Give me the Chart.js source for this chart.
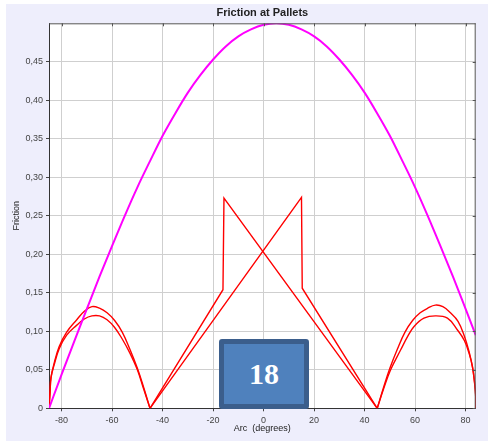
<!DOCTYPE html>
<html>
<head>
<meta charset="utf-8">
<script src="https://cdn.jsdelivr.net/npm/chart.js@4"></script>
<style>
  body { margin: 0; background: #fff; }
  #wrap { position: absolute; left: 6px; top: 4px; width: 482px; height: 437px; background: #eeeefc; }
  #badge {
    position: absolute; left: 219px; top: 339px; width: 90px; height: 70px;
    box-sizing: border-box; background: #4f81bd; border: 5px solid #3b5e8c; border-radius: 3px;
    color: #fff; font: bold 30px "Liberation Serif", serif; text-align: center; line-height: 60px;
  }
</style>
</head>
<body>
<div id="wrap"><canvas id="chart" width="482" height="437"></canvas></div>
<div id="badge">18</div>
<script>
// magenta curve
var arcMag = [-85,-80,-75,-70,-65,-60,-55,-50,-45,-40,-35,-30,-25,-20,-15,-10,-5,0,5,10,15,20,25,30,35,40,45,50,55,60,65,70,75,80,84];
var fricMag = [0,0.044,0.087,0.129,0.171,0.211,0.250,0.287,0.321,0.354,0.383,0.410,0.433,0.453,0.470,0.483,0.492,0.498,0.500,0.498,0.492,0.483,0.470,0.453,0.433,0.410,0.383,0.354,0.321,0.287,0.250,0.211,0.171,0.129,0.095];

// red curve 1 (jump at -16)
var arcP = [-85,-84.6,-84.2,-83,-81,-78,-74,-71,-68,-65,-62,-59,-56,-53,-50,-47.5,-45,-16.1,-15.7,45,47.5,50.3,54.3,57,59.5,63.5,68,72.8,76.7,79.5,81.5,82.7,83.5,84,84];
var fricP = [0,0.02,0.04,0.058,0.08,0.099,0.115,0.126,0.132,0.130,0.124,0.114,0.099,0.077,0.052,0.027,0,0.154,0.273,0,0.025,0.050,0.076,0.093,0.106,0.117,0.120,0.117,0.102,0.088,0.070,0.054,0.035,0.018,0];

// red curve 2 (jump at +15)
var arcQ = [-85,-84.6,-84.2,-83,-81,-78,-74,-71,-68,-65,-62,-59,-56,-53,-50,-47.5,-45,15.0,15.3,45,47.5,50,53,56,59,62,65,68,71,74,77,79.5,81.5,82.7,83.5,84,84];
var fricQ = [0,0.02,0.04,0.056,0.077,0.095,0.108,0.116,0.120,0.120,0.115,0.105,0.090,0.072,0.050,0.025,0,0.274,0.156,0,0.027,0.052,0.077,0.099,0.114,0.124,0.130,0.134,0.132,0.124,0.113,0.094,0.072,0.054,0.035,0.015,0];

var xTicks = [-80,-60,-40,-20,0,20,40,60,80];
var yTicks = [0,0.05,0.10,0.15,0.20,0.25,0.30,0.35,0.40,0.45];
var yTickLabels = ['0','0,05','0,10','0,15','0,20','0,25','0,30','0,35','0,40','0,45'];

function pts(xs, ys, from, to) {
  return xs.slice(from, to).map(function(x, i){ return {x: x, y: ys[from + i]}; });
}

// arches get a smooth curve, the straight middle part with the jump does not
function redSets(xs, ys) {
  var base = {showLine: true, borderColor: '#ff0000', borderWidth: 1.4, pointRadius: 0};
  return [
    Object.assign({data: pts(xs, ys, 0, 17), tension: 0.4}, base),
    Object.assign({data: pts(xs, ys, 16, 20), tension: 0}, base),
    Object.assign({data: pts(xs, ys, 19, xs.length), tension: 0.4}, base)
  ];
}

var frame = {
  id: 'frame',
  beforeDraw: function(chart) {
    var ctx = chart.ctx, a = chart.chartArea;
    ctx.save();
    ctx.fillStyle = '#fff';
    ctx.fillRect(a.left, a.top, a.right - a.left, a.bottom - a.top);
    ctx.restore();
  },
  afterDraw: function(chart) {
    var ctx = chart.ctx, a = chart.chartArea;
    ctx.save();
    ctx.strokeStyle = '#555';
    ctx.lineWidth = 1;
    ctx.beginPath();
    ctx.moveTo(a.left, a.top + 0.5); ctx.lineTo(a.right, a.top + 0.5);
    ctx.moveTo(a.right - 0.5, a.top); ctx.lineTo(a.right - 0.5, a.bottom);
    chart.scales.x.ticks.forEach(function(t){
      var px = Math.round(chart.scales.x.getPixelForValue(t.value)) + 0.5;
      ctx.moveTo(px, a.top); ctx.lineTo(px, a.top + 3);
    });
    chart.scales.y.ticks.forEach(function(t){
      var py = Math.round(chart.scales.y.getPixelForValue(t.value)) + 0.5;
      ctx.moveTo(a.right, py); ctx.lineTo(a.right - 3, py);
    });
    ctx.stroke();
    // title centred on the plot
    ctx.fillStyle = '#222';
    ctx.font = 'bold 11px "Liberation Sans", Arial, sans-serif';
    ctx.textAlign = 'center';
    ctx.textBaseline = 'middle';
    ctx.fillText('Friction at Pallets', (a.left + a.right) / 2, 8.6);
    ctx.restore();
  }
};

var tickFont = {family: '"Liberation Sans", Arial, sans-serif', size: 9};

var datasets = [
  {data: pts(arcMag, fricMag, 0, arcMag.length), showLine: true, borderColor: '#ff00ff', borderWidth: 2, pointRadius: 0, cubicInterpolationMode: 'monotone'}
].concat(redSets(arcP, fricP), redSets(arcQ, fricQ));

new Chart(document.getElementById('chart'), {
  type: 'scatter',
  data: {datasets: datasets},
  options: {
    responsive: false,
    animation: false,
    devicePixelRatio: 1,
    layout: {padding: {left: 0, right: 12.3, top: 19.3, bottom: 0}},
    plugins: {legend: {display: false}, tooltip: {enabled: false}, title: {display: false}},
    scales: {
      x: {
        type: 'linear', min: -85, max: 84,
        afterBuildTicks: function(s){ s.ticks = xTicks.map(function(v){ return {value: v}; }); },
        afterFit: function(s){ s.height = 32.7; },
        grid: {color: '#cfcfcf', tickColor: '#444', tickLength: 3},
        border: {color: '#333', width: 1},
        ticks: {color: '#444', font: tickFont, padding: 4, maxRotation: 0,
                callback: function(v){ return String(v); }},
        title: {display: true, text: 'Arc  (degrees)', color: '#222', font: tickFont, padding: {top: 0, bottom: 6.6}}
      },
      y: {
        type: 'linear', min: 0, max: 0.5,
        afterBuildTicks: function(s){ s.ticks = yTicks.map(function(v){ return {value: v}; }); },
        afterFit: function(s){ s.width = 43; },
        grid: {color: '#cfcfcf', tickColor: '#444', tickLength: 3},
        border: {color: '#333', width: 1},
        ticks: {color: '#444', font: tickFont, padding: 3,
                callback: function(v, i){ return yTickLabels[i]; }},
        title: {display: true, text: 'Friction', color: '#222', font: tickFont, padding: {top: 5.6, bottom: 0}}
      }
    }
  },
  plugins: [frame]
});
</script>
</body>
</html>
